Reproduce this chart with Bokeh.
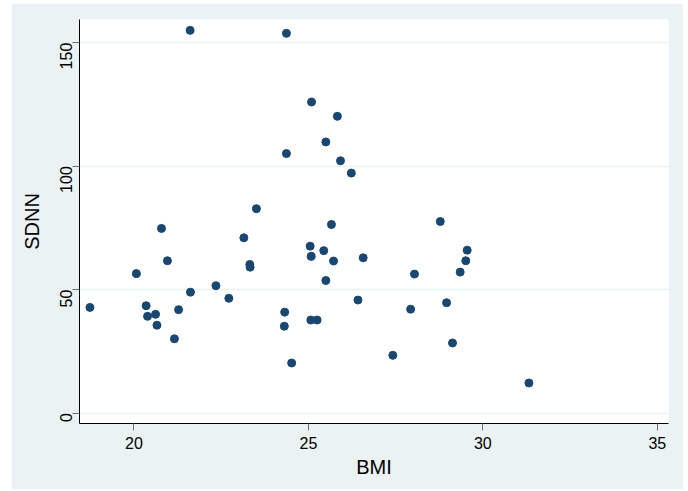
import math
from bokeh.plotting import figure
from bokeh.models import ColumnDataSource, FixedTicker, Range1d
from bokeh.embed import file_html
from bokeh.resources import INLINE

bmi = [18.74, 20.07, 20.35, 20.39, 20.62, 20.66, 20.79, 20.96, 21.16, 21.28,
       21.62, 21.61, 22.35, 22.72, 23.15, 23.32, 23.33, 23.51, 24.32, 24.31,
       24.37, 24.37, 24.52, 25.05, 25.08, 25.09, 25.07, 25.25, 25.44, 25.50,
       25.50, 25.66, 25.72, 25.83, 25.92, 26.23, 26.42, 26.57, 27.42, 27.93,
       28.04, 28.78, 28.96, 29.13, 29.35, 29.51, 29.55, 31.32]
sdnn = [42.8, 56.5, 43.5, 39.2, 40.0, 35.6, 74.8, 61.7, 30.1, 41.9,
        49.0, 155.0, 51.6, 46.5, 71.0, 60.2, 59.1, 82.8, 40.9, 35.2,
        153.8, 105.1, 20.3, 67.6, 63.5, 126.0, 37.7, 37.7, 65.8, 109.8,
        53.7, 76.4, 61.6, 120.2, 102.2, 97.2, 45.8, 62.9, 23.4, 42.1,
        56.3, 77.6, 44.7, 28.4, 57.1, 61.7, 66.0, 12.2]

x_ticks = [20, 25, 30, 35]
y_ticks = [0, 50, 100, 150]

BG = "#EAF2F3"
FONT = "Liberation Sans"

src = ColumnDataSource(data=dict(x=bmi, y=sdnn))

p = figure(width=672, height=486, output_backend="svg", toolbar_location=None,
           x_range=Range1d(18.44, 35.32), y_range=Range1d(-4.2, 159.4),
           min_border_left=68, min_border_right=15,
           min_border_top=16, min_border_bottom=66)
p.margin = (3, 5, 2, 11)
p.background_fill_color = "white"
p.border_fill_color = BG
p.outline_line_color = None

p.scatter("x", "y", source=src, size=8, fill_color="#1A476F", line_color="#1A476F",
          line_width=1)

p.xgrid.grid_line_color = None
p.ygrid.grid_line_color = BG
p.ygrid.grid_line_width = 1.6

p.xaxis.ticker = FixedTicker(ticks=x_ticks)
p.yaxis.ticker = FixedTicker(ticks=y_ticks)
for ax in (p.xaxis[0], p.yaxis[0]):
    ax.axis_line_color = "black"
    ax.axis_line_width = 1
    ax.major_tick_line_color = "#6E6E6E"
    ax.major_tick_line_width = 1
    ax.major_tick_out = 7
    ax.major_tick_in = 0
    ax.minor_tick_line_color = None
    ax.major_label_text_font = FONT
    ax.major_label_text_font_size = "16px"
    ax.major_label_text_color = "black"
    ax.axis_label_text_font = FONT
    ax.axis_label_text_font_size = "20px"
    ax.axis_label_text_font_style = "normal"
    ax.axis_label_text_color = "black"
    ax.major_label_standoff = 6

p.xaxis.axis_label = "BMI"
p.yaxis.axis_label = "SDNN"
p.yaxis.major_label_orientation = math.pi / 2
p.xaxis.axis_label_standoff = 4
p.yaxis.axis_label_standoff = 9

open("out.html", "w").write(file_html(p, INLINE))
